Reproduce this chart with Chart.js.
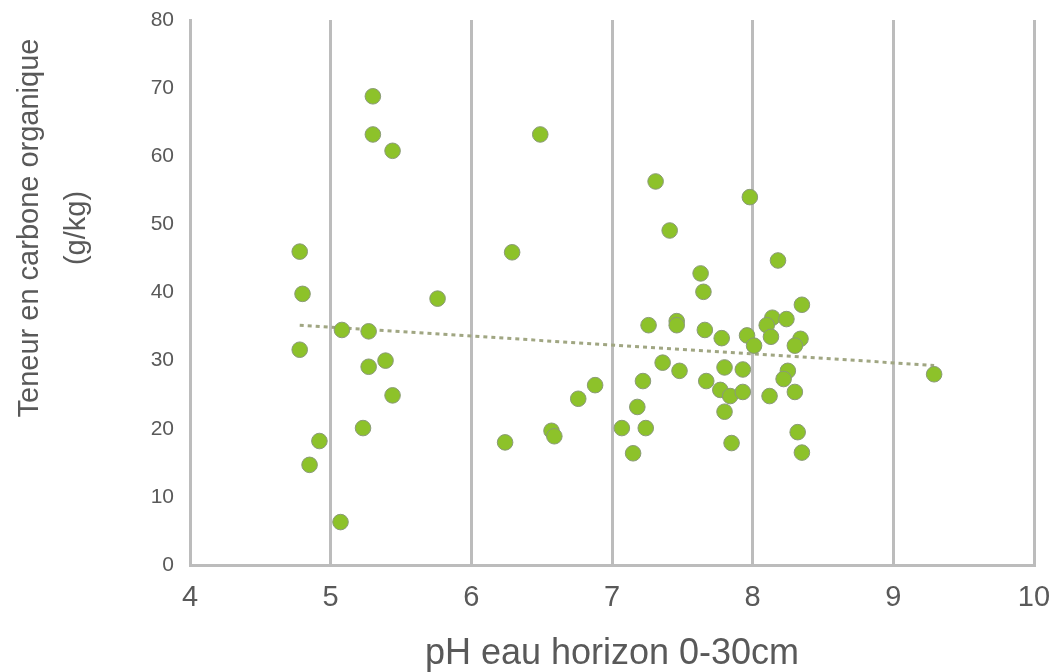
<!DOCTYPE html>
<html>
<head>
<meta charset="utf-8">
<script src="https://cdn.jsdelivr.net/npm/chart.js@4/dist/chart.umd.min.js"></script>
<style>
  html, body { margin: 0; padding: 0; background: #ffffff; }
  #wrap { width: 1058px; height: 672px; position: relative; }
</style>
</head>
<body>
<div id="wrap"><canvas id="scatter-chart"></canvas></div>
<script>
// pH values (x)
const phValues = [
    4.78, 4.80, 4.78, 4.85, 4.92, 5.07, 5.08, 5.30, 5.30, 5.44,
    5.27, 5.27, 5.39, 5.44, 5.23, 5.76, 6.49, 6.29, 6.24, 6.57,
    6.59, 6.76, 6.88, 7.31, 7.98, 7.41, 8.18, 7.63, 7.65, 8.35,
    7.26, 7.46, 7.46, 7.66, 7.78, 7.96, 8.01, 8.14, 8.10, 8.13,
    8.24, 8.34, 8.30, 7.36, 7.48, 7.80, 7.93, 8.25, 8.22, 7.22,
    7.67, 7.77, 7.84, 7.93, 8.12, 8.30, 7.18, 7.80, 7.07, 7.24,
    7.15, 7.85, 8.32, 8.35, 9.29
];
// Organic carbon content (g/kg), same order as phValues
const carbonValues = [
    46.0, 39.8, 31.6, 14.7, 18.2, 6.3, 34.5, 68.8, 63.2, 60.8,
    34.3, 29.1, 30.0, 24.9, 20.1, 39.1, 63.2, 45.9, 18.0, 19.7,
    18.9, 24.4, 26.4, 56.3, 54.0, 49.1, 44.7, 42.8, 40.1, 38.2,
    35.2, 35.8, 35.2, 34.5, 33.3, 33.7, 32.2, 36.3, 35.2, 33.5,
    36.1, 33.2, 32.2, 29.7, 28.5, 29.0, 28.7, 28.5, 27.3, 27.0,
    27.0, 25.7, 24.8, 25.4, 24.8, 25.4, 23.2, 22.5, 20.1, 20.1,
    16.4, 17.9, 19.5, 16.5, 28.0
];
// Linear trend line end points
const trendX = [4.78, 9.29];
const trendY = [35.2, 29.3];

const xTitle = 'pH eau horizon 0-30cm';
const yTitle = ['Teneur en carbone organique', '(g/kg)'];

const textColor = '#595959';
const gridColor = '#bcbcbc';

const scatterPoints = phValues.map((x, i) => ({ x: x, y: carbonValues[i] }));
const trendPoints = trendX.map((x, i) => ({ x: x, y: trendY[i] }));

// Rotated two-line y title, placed like the original
const yTitlePlugin = {
    id: 'yTitlePlugin',
    afterDraw(chart) {
        const ctx = chart.ctx;
        const area = chart.chartArea;
        ctx.save();
        ctx.fillStyle = textColor;
        ctx.font = '29px "Liberation Sans", Arial, sans-serif';
        ctx.textAlign = 'center';
        ctx.textBaseline = 'middle';
        const centerY = area.top + 208;
        const columns = [30, 77];
        yTitle.forEach((line, i) => {
            ctx.save();
            ctx.translate(columns[i], centerY);
            ctx.rotate(-Math.PI / 2);
            ctx.fillText(line, 0, 0);
            ctx.restore();
        });
        ctx.restore();
    }
};

const ctx = document.getElementById('scatter-chart').getContext('2d');
const scatterChart = new Chart(ctx, {
    type: 'scatter',
    data: {
        datasets: [
            {
                label: 'Trend',
                type: 'line',
                data: trendPoints,
                borderColor: '#a0a682',
                borderWidth: 3,
                borderDash: [4, 4],
                pointRadius: 0,
                fill: false,
                order: 2
            },
            {
                label: 'Carbone organique',
                data: scatterPoints,
                backgroundColor: '#8dc22a',
                borderColor: '#8a9a78',
                borderWidth: 1,
                pointRadius: 7.8,
                pointHoverRadius: 7.8,
                order: 1
            }
        ]
    },
    options: {
        responsive: true,
        maintainAspectRatio: false,
        animation: false,
        layout: {
            padding: { left: 10, right: 0, top: 0, bottom: 0 }
        },
        plugins: {
            legend: { display: false },
            tooltip: { enabled: false }
        },
        scales: {
            x: {
                type: 'linear',
                min: 4,
                max: 10,
                ticks: {
                    stepSize: 1,
                    color: textColor,
                    padding: 16,
                    font: { family: '"Liberation Sans", Arial, sans-serif', size: 29 }
                },
                grid: {
                    color: gridColor,
                    lineWidth: 3,
                    drawTicks: false
                },
                border: { display: true, color: gridColor, width: 3 },
                title: {
                    display: true,
                    text: xTitle,
                    color: textColor,
                    padding: { top: 0, bottom: 0 },
                    font: { family: '"Liberation Sans", Arial, sans-serif', size: 36, lineHeight: 1.0 }
                },
                afterFit: (scale) => {
                    scale.height = 107;
                    scale.paddingRight = 24;
                }
            },
            y: {
                min: 0,
                max: 80,
                ticks: {
                    stepSize: 10,
                    color: textColor,
                    padding: 16,
                    font: { family: '"Liberation Sans", Arial, sans-serif', size: 21 }
                },
                grid: { display: false, drawTicks: false },
                border: { display: true, color: gridColor, width: 3 },
                afterFit: (scale) => {
                    scale.width = 180;
                    scale.paddingTop = 20;
                }
            }
        }
    },
    plugins: [yTitlePlugin]
});
</script>
</body>
</html>
